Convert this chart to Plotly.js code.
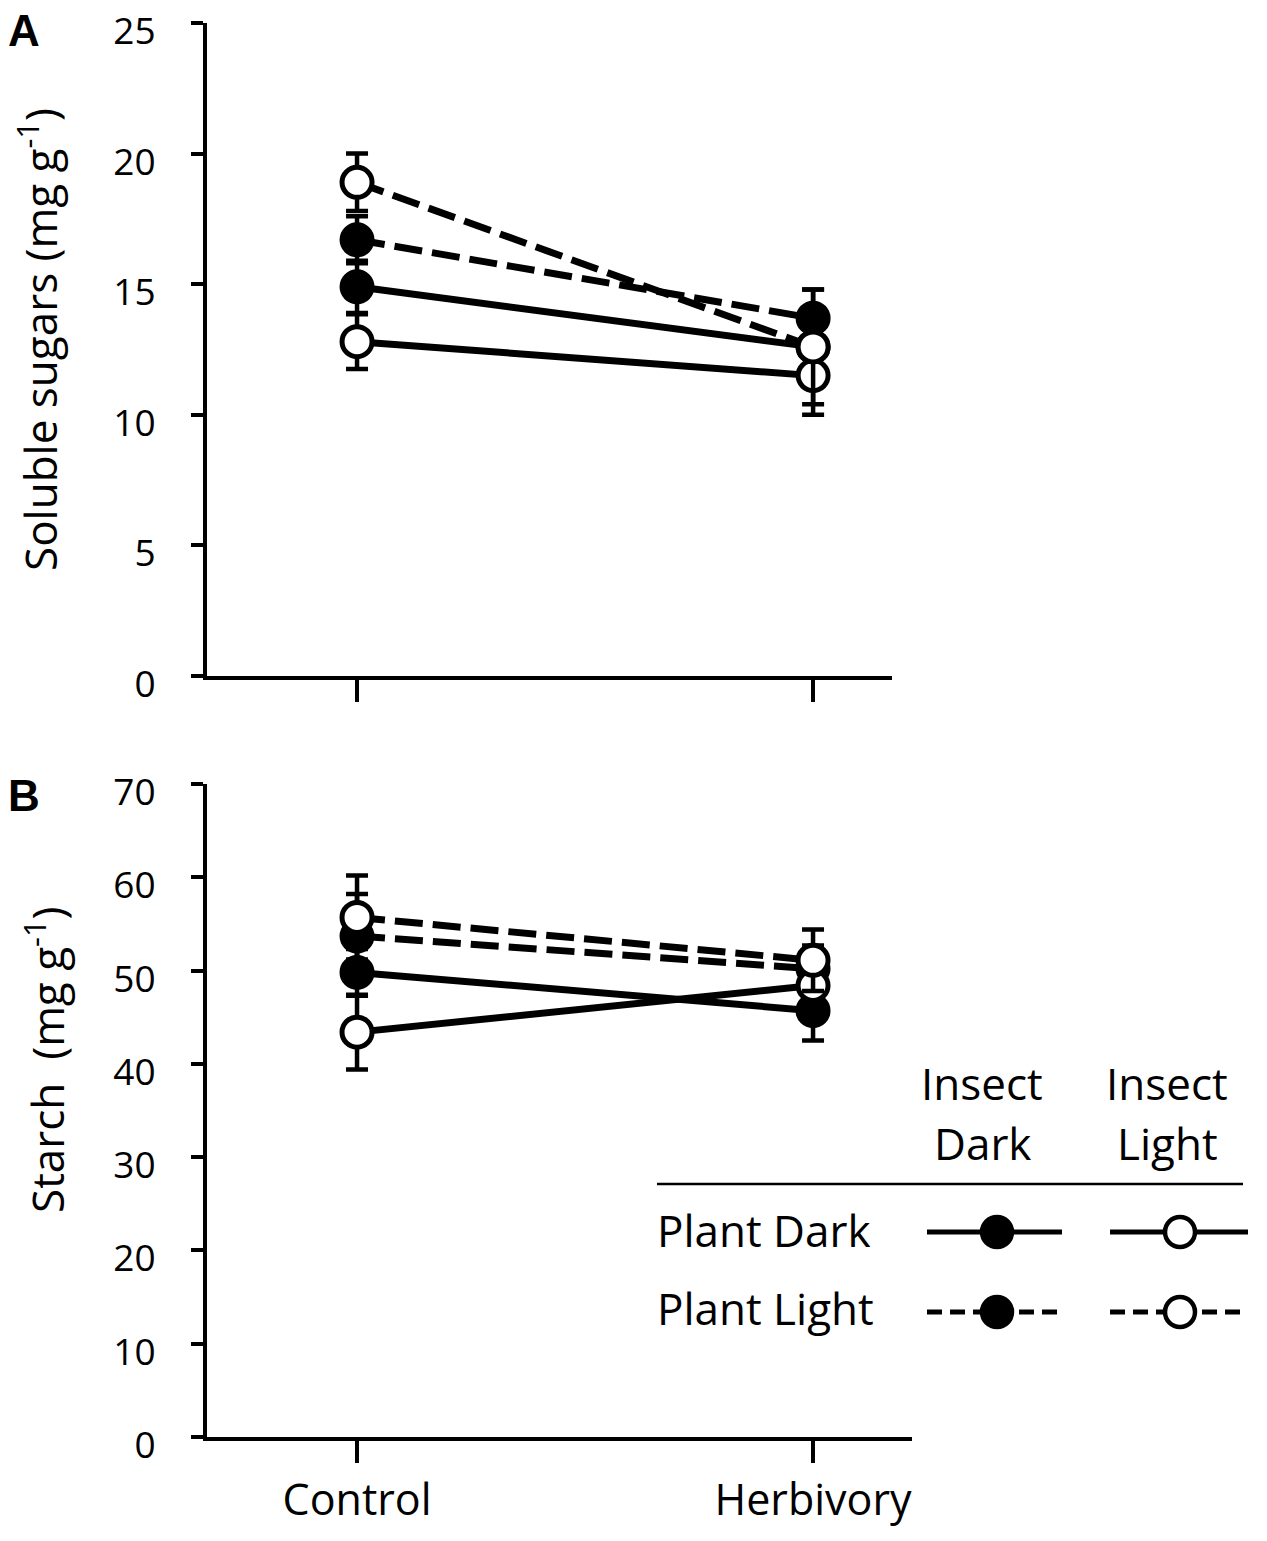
<!DOCTYPE html>
<html>
<head>
<meta charset="utf-8">
<script src="https://cdn.plot.ly/plotly-3.0.1.min.js"></script>
<style>
  html, body { margin: 0; padding: 0; background: #fff; }
  #chart { width: 1267px; height: 1541px; }
</style>
</head>
<body>
<div id="chart"></div>
<script>
// treatments on the x axis
const groups = ['Control', 'Herbivory'];

// soluble sugars (mg g-1), mean and error
const sugarPDarkIDark = [14.9, 12.6];
const sugarPDarkIDarkErr = [1.0, 1.0];
const sugarPDarkILight = [12.8, 11.5];
const sugarPDarkILightErr = [1.05, 1.5];
const sugarPLightIDark = [16.7, 13.7];
const sugarPLightIDarkErr = [0.9, 1.1];
const sugarPLightILight = [18.9, 12.6];
const sugarPLightILightErr = [1.1, 2.2];

// starch (mg g-1), mean and error
const starchPDarkIDark = [49.8, 45.7];
const starchPDarkIDarkErr = [2.5, 3.2];
const starchPDarkILight = [43.4, 48.4];
const starchPDarkILightErr = [4.0, 2.0];
const starchPLightIDark = [53.7, 50.2];
const starchPLightIDarkErr = [4.5, 2.5];
const starchPLightILight = [55.7, 51.1];
const starchPLightILightErr = [4.5, 3.3];

const sugarTicks = [0, 5, 10, 15, 20, 25];
const starchTicks = [0, 10, 20, 30, 40, 50, 60, 70];

const W = 1267, H = 1541;
const px = x => x / W;
const py = y => 1 - y / H;
const FONT = 'Open Sans, sans-serif';

function serie(y, err, xa, ya, filled, dashed) {
    return {
        x: groups, y: y, xaxis: xa, yaxis: ya,
        type: 'scatter', mode: 'lines+markers', showlegend: false,
        line: { color: '#000', width: 7, dash: dashed ? '28px,10px' : 'solid' },
        marker: { size: 30, color: filled ? '#000' : '#fff', line: { color: '#000', width: 5 } },
        error_y: { type: 'data', array: err, visible: true, color: '#000', thickness: 4.5, width: 11 }
    };
}

const data = [
    serie(sugarPDarkIDark, sugarPDarkIDarkErr, 'x', 'y', true, false),
    serie(sugarPLightIDark, sugarPLightIDarkErr, 'x', 'y', true, true),
    serie(sugarPDarkILight, sugarPDarkILightErr, 'x', 'y', false, false),
    serie(sugarPLightILight, sugarPLightILightErr, 'x', 'y', false, true),
    serie(starchPDarkIDark, starchPDarkIDarkErr, 'x2', 'y2', true, false),
    serie(starchPLightIDark, starchPLightIDarkErr, 'x2', 'y2', true, true),
    serie(starchPDarkILight, starchPDarkILightErr, 'x2', 'y2', false, false),
    serie(starchPLightILight, starchPLightILightErr, 'x2', 'y2', false, true)
];

const xBase = {
    type: 'category', showgrid: false, zeroline: false, showline: true,
    linecolor: '#000', linewidth: 4, ticks: 'outside', ticklen: 22, tickwidth: 4, tickcolor: '#000',
    tickfont: { family: FONT, size: 43, color: '#000' }, fixedrange: true
};
const yBase = {
    showgrid: false, zeroline: false, showline: true,
    linecolor: '#000', linewidth: 4, ticks: 'outside', ticklen: 12, tickwidth: 4, tickcolor: '#000',
    tickfont: { family: FONT, size: 37, color: '#000' }, ticklabelstandoff: 28, ticklabelshift: 8,
    ticklabeloverflow: 'allow', fixedrange: true
};

// custom table legend drawn in the lower panel
const shapes = [
    { type: 'line', xref: 'paper', yref: 'paper', x0: px(657), x1: px(1243), y0: py(1184), y1: py(1184), line: { color: '#000', width: 2.5 } }
];
const rows = [{ y: 1232, dash: 'solid' }, { y: 1312, dash: '15px,8px' }];
const cols = [{ x0: 927, x1: 1062, c: 997, fill: '#000' }, { x0: 1110, x1: 1248, c: 1180, fill: '#fff' }];
rows.forEach(r => {
    cols.forEach(c => {
        shapes.push({ type: 'line', xref: 'paper', yref: 'paper', x0: px(c.x0), x1: px(c.x1), y0: py(r.y), y1: py(r.y),
            line: { color: '#000', width: 5, dash: r.dash } });
        shapes.push({ type: 'circle', xref: 'paper', yref: 'paper', xsizemode: 'pixel', ysizemode: 'pixel',
            xanchor: px(c.c), yanchor: py(r.y), x0: -15, x1: 15, y0: -15, y1: 15,
            fillcolor: c.fill, line: { color: '#000', width: 4.5 } });
    });
});

const txt = (text, x, y, xanchor, size, bold, angle) => ({
    text: text, xref: 'paper', yref: 'paper', x: px(x), y: py(y), xanchor: xanchor, yanchor: 'middle',
    textangle: angle || 0, showarrow: false,
    font: { family: bold ? 'Liberation Sans, Arial, sans-serif' : FONT, size: size, color: '#000', weight: bold ? 'bold' : 'normal' }
});

const annotations = [
    txt('<b>A</b>', 24, 30, 'center', 44, true),
    txt('<b>B</b>', 24, 795, 'center', 44, true),
    // axis titles
    txt('Soluble sugars (mg g<sup>-1</sup>)', 38, 340, 'center', 44, false, -90),
    txt('Starch  (mg g<sup>-1</sup>)', 45, 1060, 'center', 44, false, -90),
    // legend table
    txt('Insect', 982, 1083, 'center', 44),
    txt('Dark', 982, 1143, 'center', 44),
    txt('Insect', 1167, 1083, 'center', 44),
    txt('Light', 1167, 1143, 'center', 44),
    txt('Plant Dark', 655, 1230, 'left', 44),
    txt('Plant Light', 655, 1308, 'left', 44)
];

const layout = {
    width: W, height: H,
    margin: { l: 0, r: 0, t: 0, b: 0 },
    paper_bgcolor: '#fff', plot_bgcolor: '#fff',
    showlegend: false,
    xaxis: Object.assign({}, xBase, { domain: [px(207), px(892)], range: [-0.329, 1.173], anchor: 'y', showticklabels: false }),
    yaxis: Object.assign({}, yBase, { domain: [py(676), py(23)], range: [0, 25], tickvals: sugarTicks, anchor: 'x' }),
    xaxis2: Object.assign({}, xBase, { domain: [px(207), px(912)], range: [-0.329, 1.217], anchor: 'y2' }),
    yaxis2: Object.assign({}, yBase, { domain: [py(1437), py(784)], range: [0, 70], tickvals: starchTicks, anchor: 'x2' }),
    shapes: shapes,
    annotations: annotations
};

Plotly.newPlot('chart', data, layout, { displayModeBar: false, staticPlot: true });
</script>
</body>
</html>
